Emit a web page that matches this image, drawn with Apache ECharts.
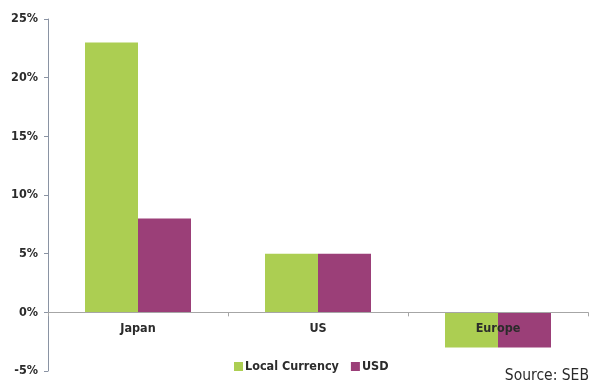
<!DOCTYPE html>
<html>
<head>
<meta charset="utf-8">
<script src="https://cdn.jsdelivr.net/npm/echarts@6/dist/echarts.min.js"></script>
<style>
  html, body { margin: 0; padding: 0; background: #fff; }
  #chart { width: 596px; height: 387px; }
</style>
</head>
<body>
<div id="chart"></div>
<script>
// Regional returns, in percent
const regions = ['Japan', 'US', 'Europe'];
const localCurrency = [23, 5, -3];
const usd = [8, 5, -3];
const seriesNames = ['Local Currency', 'USD'];
const sourceNote = 'Source: SEB';

const Y_MIN = -5, Y_MAX = 25;
const GRID = { left: 48, right: 8, top: 19, bottom: 16 };
const CHART_H = 387;

const FONT = '"DejaVu Sans Condensed", "Liberation Sans Narrow", sans-serif';
const chart = echarts.init(document.getElementById('chart'));

// Category axis sits on the zero line; shift it up from the grid bottom by the
// height of the negative part of the value range.
const plotH = CHART_H - GRID.top - GRID.bottom;
const zeroShift = plotH * (0 - Y_MIN) / (Y_MAX - Y_MIN);

chart.setOption({
  animation: false,
  grid: Object.assign({ containLabel: false, outerBoundsMode: 'none' }, GRID),
  legend: {
    data: seriesNames,
    left: 229,
    top: 355,
    itemWidth: 9,
    itemHeight: 9,
    itemGap: 12,
    icon: 'rect',
    textStyle: { fontFamily: FONT, fontWeight: 'bold', fontSize: 12.5, color: '#2b2b2b', padding: [0, 0, 0, -3] }
  },
  graphic: [{
    type: 'text',
    right: 7,
    top: 368,
    style: { text: sourceNote, font: '15.5px ' + FONT, fill: '#2b2b2b' }
  }],
  xAxis: {
    type: 'category',
    data: regions,
    z: 5,
    offset: -zeroShift,
    axisLine: { onZero: false, lineStyle: { color: '#a6a6a6', width: 1 } },
    axisTick: { show: true, alignWithLabel: false, length: 4, lineStyle: { color: '#a6a6a6' } },
    axisLabel: { fontFamily: FONT, fontWeight: 'bold', fontSize: 12.5, color: '#2b2b2b', margin: 10 }
  },
  yAxis: {
    type: 'value',
    min: Y_MIN,
    max: Y_MAX,
    interval: 5,
    splitLine: { show: false },
    axisLine: { show: true, lineStyle: { color: '#8a93a3', width: 1 } },
    axisTick: { show: true, length: 4, lineStyle: { color: '#8a93a3' } },
    axisLabel: { formatter: '{value}%', fontFamily: FONT, fontWeight: 'bold', fontSize: 12.5, color: '#2b2b2b', margin: 10 }
  },
  series: [
    {
      name: seriesNames[0], type: 'bar', data: localCurrency,
      barWidth: 53, barGap: '0%',
      itemStyle: { color: '#acce52' }
    },
    {
      name: seriesNames[1], type: 'bar', data: usd,
      barWidth: 53,
      itemStyle: { color: '#9b3f78' }
    }
  ]
});
</script>
</body>
</html>
